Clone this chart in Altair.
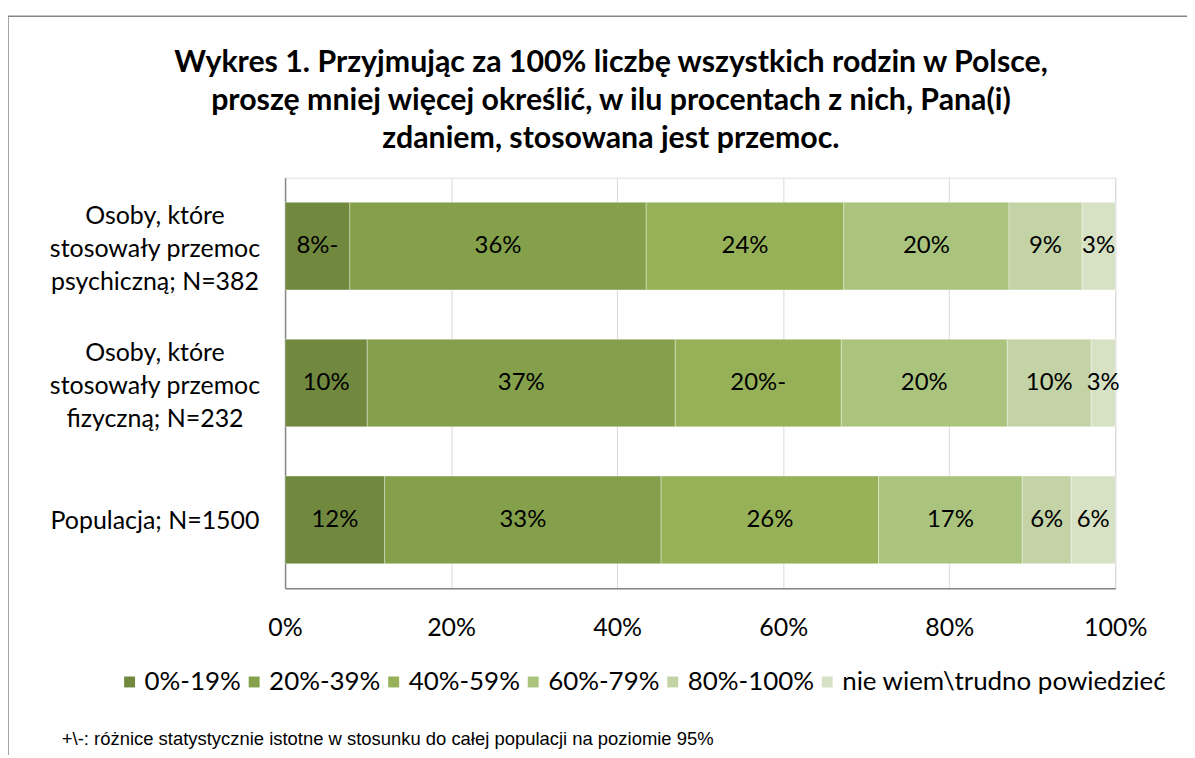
import altair as alt
import pandas as pd

groups = [
    "Osoby, które|stosowały przemoc|psychiczną; N=382",
    "Osoby, które|stosowały przemoc|fizyczną; N=232",
    "Populacja; N=1500",
]
categories = ["0%-19%", "20%-39%", "40%-59%", "60%-79%", "80%-100%", "nie wiem\\trudno powiedzieć"]
colors = ["#71893F", "#84A04B", "#97B159", "#ABC47D", "#C3D3A6", "#D7E2C4"]

values_psych = [7.8, 35.7, 23.8, 19.9, 8.8, 4.0]
values_fiz = [9.9, 37.1, 20.0, 20.0, 10.1, 2.9]
values_pop = [12.0, 33.3, 26.2, 17.3, 5.9, 5.3]

labels_psych = ["8%-", "36%", "24%", "20%", "9%", "3%"]
labels_fiz = ["10%", "37%", "20%-", "20%", "10%", "3%"]
labels_pop = ["12%", "33%", "26%", "17%", "6%", "6%"]

x_ticks = [0, 20, 40, 60, 80, 100]

title_lines = [
    "Wykres 1. Przyjmując za 100% liczbę wszystkich rodzin w Polsce,",
    "proszę mniej więcej określić, w ilu procentach z nich, Pana(i)",
    "zdaniem, stosowana jest przemoc.",
]
footnote = "+\\-: różnice statystycznie istotne w stosunku do całej populacji na poziomie 95%"

rows = []
for g, vals, labs in zip(groups, [values_psych, values_fiz, values_pop], [labels_psych, labels_fiz, labels_pop]):
    for i, (c, v, l) in enumerate(zip(categories, vals, labs)):
        rows.append({"group": g, "category": c, "value": v, "label": l, "idx": i})
df = pd.DataFrame(rows)

FONT = "Lato"
FS = 25

y_enc = alt.Y(
    "group:N",
    sort=groups,
    scale=alt.Scale(paddingInner=0.36, paddingOuter=0.18),
    axis=alt.Axis(
        title=None,
        labelExpr="split(datum.label, '|')",
        labelAlign="center",
        labelBaseline="middle",
        labelPadding=131,
        labelLineHeight=33,
        labelOffset={"condition": {"test": "indexof(datum.label, '|') >= 0", "value": -30}, "value": 1},
        labelFont=FONT,
        labelFontSize=FS,
        labelColor="#000000",
        ticks=False,
        tickSize=0,
        domainColor="#868686",
        domainWidth=1.5,
        grid=False,
        labelLimit=400,
    ),
)

x_enc = alt.X(
    "value:Q",
    stack="zero",
    scale=alt.Scale(domain=[0, 100], nice=False),
    axis=alt.Axis(
        title=None,
        values=x_ticks,
        labelExpr="datum.value + '%'",
        labelFont=FONT,
        labelFontSize=FS,
        labelColor="#000000",
        labelBaseline="middle",
        labelFlush=False,
        labelPadding=39,
        ticks=False,
        tickSize=0,
        domainColor="#868686",
        domainWidth=1.5,
        grid=True,
        gridColor="#D9D9D9",
        gridWidth=1,
    ),
)

bars = alt.Chart(df).mark_bar(stroke="#FFFFFF", strokeWidth=0.6, strokeOpacity=0.6).encode(
    x=x_enc,
    y=y_enc,
    color=alt.Color(
        "category:N",
        sort=categories,
        scale=alt.Scale(domain=categories, range=colors),
        legend=alt.Legend(
            title=None,
            orient="none",
            direction="horizontal",
            legendX=-169,
            legendY=493,
            symbolType="square",
            symbolSize=120,
            symbolStrokeWidth=0,
            labelFont=FONT,
            labelFontSize=26,
            labelColor="#000000",
            labelOffset=2,
            columnPadding=0,
            padding=0,
            labelLimit=500,
        ),
    ),
    order=alt.Order("idx:Q"),
)

texts = alt.Chart(df).transform_stack(
    stack="value", groupby=["group"], as_=["v0", "v1"], sort=[alt.SortField("idx")]
).transform_calculate(
    mid="(datum.v0 + datum.v1) / 2"
).mark_text(font=FONT, fontSize=24, color="#000000", baseline="middle", align="center").encode(
    x=alt.X("mid:Q", scale=alt.Scale(domain=[0, 100], nice=False)),
    y=alt.Y("group:N", sort=groups),
    text="label:N",
)

one = alt.Data(values=[{}])

title_mark = alt.Chart(one).mark_text(
    font=FONT, fontSize=30.4, fontWeight="bold", color="#000000",
    align="center", baseline="middle", lineHeight=38,
).encode(x=alt.value(327), y=alt.value(-115), text=alt.value(title_lines))

foot_mark = alt.Chart(one).mark_text(
    font="Liberation Sans", fontSize=18.5, color="#000000", align="left", baseline="middle",
).encode(x=alt.value(62 - 286), y=alt.value(740 - 177), text=alt.value(footnote))

frame_top = alt.Chart(one).mark_rule(color="#868686", strokeWidth=1.5).encode(
    x=alt.value(-278), x2=alt.value(1000), y=alt.value(-162)
)
frame_left = alt.Chart(one).mark_rule(color="#868686", strokeWidth=1.5).encode(
    x=alt.value(-278), y=alt.value(-162), y2=alt.value(700)
)

chart = alt.layer(bars, texts, title_mark, foot_mark, frame_top, frame_left).properties(
    width=833,
    height=412,
    autosize="none",
    padding={"left": 278, "top": 169, "right": 72, "bottom": 166},
).configure_view(stroke=None).configure(background="#FFFFFF")

chart.save("out.html", embed_options={"renderer": "svg", "actions": False})
